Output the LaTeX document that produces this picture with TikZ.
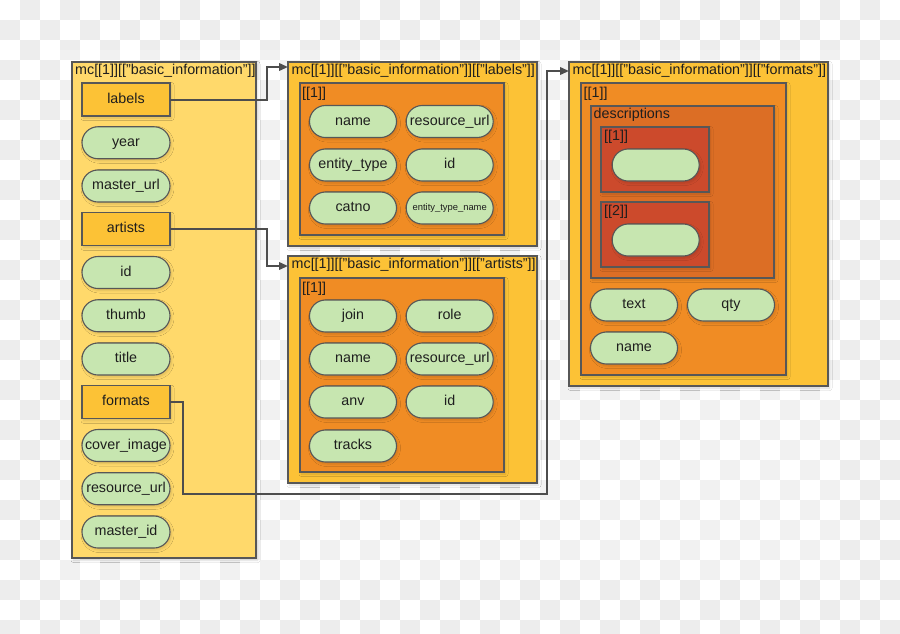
\documentclass[tikz,border=0pt]{standalone}
\usepackage{fontspec}
\setmainfont{Liberation Sans}
\usetikzlibrary{shadows.blur,arrows.meta}
\definecolor{chk}{HTML}{EDEDED}
\definecolor{lyellow}{HTML}{FFD96B}
\definecolor{yellowB}{HTML}{FCC236}
\definecolor{orangeA}{HTML}{F08C24}
\definecolor{orangeB}{HTML}{DC6E25}
\definecolor{redA}{HTML}{CC4A2C}
\definecolor{pillgreen}{HTML}{C7E6B0}
\definecolor{bordergray}{HTML}{575757}
\definecolor{linegray}{HTML}{4D4D4D}
\definecolor{txt}{HTML}{1E1E1E}
\begin{document}
\begin{tikzpicture}[x=1pt,y=-1pt,
  shd/.style={blur shadow={shadow xshift=1.5pt,shadow yshift=-2pt,shadow blur steps=6,shadow blur radius=2.5pt,shadow opacity=14}},
  frame/.style={shd,draw=bordergray,line width=1.1pt,inner sep=0pt,outer sep=0pt,anchor=north west},
  pill/.style={shd,draw=bordergray,line width=1.1pt,fill=pillgreen,rounded corners=16pt,
    minimum width=87pt,minimum height=32pt,inner sep=0pt,outer sep=0pt,
    font=\fontsize{14.3}{16}\selectfont,text=txt,text height=10pt,text depth=3pt},
  keyrect/.style={shd,draw=bordergray,line width=1.1pt,fill=yellowB,
    minimum width=88pt,minimum height=33pt,inner sep=0pt,outer sep=0pt,
    font=\fontsize{14.3}{16}\selectfont,text=txt,text height=10pt,text depth=3pt},
  ttl/.style={anchor=mid west,inner sep=0pt,font=\fontsize{14.3}{16}\selectfont,text=txt},
  conn/.style={draw=linegray,line width=2pt,-{Triangle[length=9pt,width=7.5pt]}}
]
\useasboundingbox (0,0) rectangle (900,633);
% checkerboard background
\foreach \i in {0,...,44}{
  \foreach \j in {0,...,31}{
    \pgfmathtruncatemacro{\odd}{mod(\i+\j,2)}
    \ifnum\odd=1 \fill[chk] (\i*20,\j*20) rectangle ++(20,20); \fi
  }
}
\fill[white,opacity=0.25] (60,50) rectangle (840,580);

% left box
\node[frame,fill=lyellow,minimum width=184pt,minimum height=496pt] (b1) at (72,62) {};
\node[ttl] (t1) at (75,72) {mc[[1]][["basic\_information"]]};
\node[keyrect] (labels) at (126,99.5) {labels};
\node[pill,minimum width=88pt] (year) at (126,142.75) {year};
\node[pill,minimum width=88pt] (masterurl) at (126,186) {master\_url};
\node[keyrect] (artists) at (126,229.25) {artists};
\node[pill,minimum width=88pt] (id1) at (126,272.5) {id};
\node[pill,minimum width=88pt] (thumb) at (126,315.75) {thumb};
\node[pill,minimum width=88pt] (title) at (126,359) {title};
\node[keyrect] (formats) at (126,402.25) {formats};
\node[pill,minimum width=88pt] (cover) at (126,445.5) {cover\_image};
\node[pill,minimum width=88pt] (resurl1) at (126,488.75) {resource\_url};
\node[pill,minimum width=88pt] (masterid) at (126,532) {master\_id};

% labels box
\node[frame,fill=yellowB,minimum width=249pt,minimum height=184pt] (b2) at (288,62) {};
\node[ttl] (t2) at (291.5,71.5) {mc[[1]][["basic\_information"]][["labels"]]};
\node[frame,fill=orangeA,minimum width=204pt,minimum height=152pt] (b2i) at (300,83) {};
\node[ttl] (t2i) at (302,94.5) {[[1]]};
\node[pill] (lname) at (353,121.5) {name};
\node[pill] (lres) at (449.7,121.5) {resource\_url};
\node[pill] (lent) at (353,165) {entity\_type};
\node[pill] (lid) at (449.7,165) {id};
\node[pill] (lcat) at (353,208) {catno};
\node[pill,font=\fontsize{9.4}{11}\selectfont,text height=7pt,text depth=2pt] (lentn) at (449.7,208) {entity\_type\_name};

% artists box
\node[frame,fill=yellowB,minimum width=249pt,minimum height=227pt] (b3) at (288,256) {};
\node[ttl] (t3) at (291.5,266) {mc[[1]][["basic\_information"]][["artists"]]};
\node[frame,fill=orangeA,minimum width=204pt,minimum height=194pt] (b3i) at (300,278) {};
\node[ttl] (t3i) at (302,289.5) {[[1]]};
\node[pill] (ajoin) at (353,316) {join};
\node[pill] (arole) at (449.7,316) {role};
\node[pill] (aname) at (353,359) {name};
\node[pill] (ares) at (449.7,359) {resource\_url};
\node[pill] (aanv) at (353,402) {anv};
\node[pill] (aid) at (449.7,402) {id};
\node[pill] (atracks) at (353,446) {tracks};

% formats box
\node[frame,fill=yellowB,minimum width=259pt,minimum height=324pt] (b4) at (569,62) {};
\node[ttl] (t4) at (572.3,71.5) {mc[[1]][["basic\_information"]][["formats"]]};
\node[frame,fill=orangeA,minimum width=205pt,minimum height=292pt] (b4i) at (581,83) {};
\node[ttl] (t4i) at (583.5,94.5) {[[1]]};
\node[frame,fill=orangeB,minimum width=183pt,minimum height=172pt] (desc) at (591,106) {};
\node[ttl] (tdesc) at (593.5,115.5) {descriptions};
\node[frame,fill=redA,minimum width=108pt,minimum height=65pt] (d1) at (601,127) {};
\node[ttl] (td1) at (604,137.5) {[[1]]};
\node[pill] (d1p) at (655.7,165) {};
\node[frame,fill=redA,minimum width=108pt,minimum height=65pt] (d2) at (601,202) {};
\node[ttl] (td2) at (604,213) {[[2]]};
\node[pill] (d2p) at (655.7,240) {};
\node[pill] (ftext) at (634,305) {text};
\node[pill] (fqty) at (731,305) {qty};
\node[pill] (fname) at (634,348) {name};

% connectors
\draw[conn] (labels.east) -- ++(96.7,0) |- ([yshift=-5pt]b2.north west);
\draw[conn] (artists.east) -- ++(96.7,0) |- ([yshift=-10pt]b3.north west);
\draw[conn] (formats.east) -- ++(12.7,0) -- ++(0,91.75) -- ++(364.6,0) |- ([yshift=-9pt]b4.north west);
\end{tikzpicture}
\end{document}
